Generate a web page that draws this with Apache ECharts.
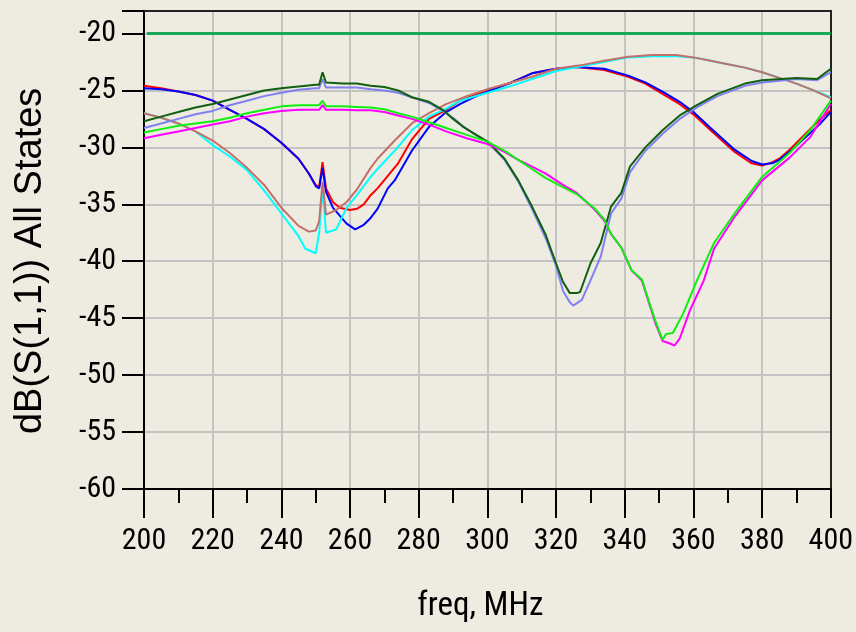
<!DOCTYPE html>
<html>
<head>
<meta charset="utf-8">
<script src="https://cdn.jsdelivr.net/npm/echarts@6/dist/echarts.min.js"></script>
<style>
  html, body { margin: 0; padding: 0; background: #eeebe1; }
  #chart { width: 856px; height: 632px; }
</style>
</head>
<body>
<div id="chart"></div>
<script>
// S11 traces for each state, [freq MHz, dB]
const redTrace = [[200,-24.6],[205,-24.8],[210,-25.1],[215,-25.4],[220,-25.9],[225,-26.7],[230,-27.5],[235,-28.4],[240,-29.6],[245,-31.0],[248,-32.3],[250,-33.3],[251,-33.5],[252,-31.3],[253,-33.6],[255,-34.8],[257,-35.3],[260,-35.5],[262,-35.4],[264,-35.0],[266,-34.2],[268,-33.6],[271,-32.5],[274,-31.4],[278,-29.3],[283,-27.5],[288,-26.7],[292,-25.9],[300,-25.0],[307,-24.3],[313,-23.5],[320,-23.1],[326,-22.95],[334,-23.2],[341,-23.8],[346,-24.4],[351,-25.3],[356,-26.2],[360,-27.1],[365,-28.5],[372,-30.4],[377,-31.4],[380,-31.6],[383,-31.3],[385,-31.0],[388,-30.2],[392,-29.0],[397,-27.5],[400,-26.75]]
const blueTrace = [[200,-24.8],[205,-24.9],[210,-25.1],[215,-25.4],[220,-25.9],[225,-26.7],[230,-27.5],[235,-28.4],[240,-29.6],[245,-31.0],[248,-32.3],[250,-33.4],[251,-33.6],[252,-31.8],[253,-33.9],[255,-35.3],[257,-36.0],[259,-36.7],[261.5,-37.2],[264,-36.8],[266,-36.2],[268,-35.4],[271,-33.6],[273,-32.9],[278,-30.3],[283,-28.2],[288,-26.9],[292,-26.2],[296,-25.6],[300,-25.1],[307,-24.3],[313,-23.5],[320,-23.1],[326,-22.95],[334,-23.1],[341,-23.7],[346,-24.3],[351,-25.1],[356,-26.0],[360,-26.9],[365,-28.3],[372,-30.2],[377,-31.2],[380,-31.5],[383,-31.4],[385,-31.1],[388,-30.4],[392,-29.3],[397,-27.9],[400,-26.9]]
const cyanTrace = [[200,-27.0],[205,-27.4],[210,-27.9],[215,-28.6],[220,-29.8],[225,-30.8],[230,-32.0],[235,-33.8],[240,-35.8],[245,-37.8],[247,-38.9],[250,-39.3],[251,-37.5],[252,-33.5],[253,-37.5],[256,-37.2],[259,-35.3],[262,-34.2],[266,-32.6],[268,-31.9],[273,-30.3],[278,-28.5],[283,-27.3],[288,-26.6],[292,-25.9],[300,-25.2],[307,-24.6],[313,-24.0],[320,-23.3],[327,-22.9],[334,-22.5],[341,-22.1],[348,-22.0],[355,-22.0],[360,-22.1],[365,-22.4],[370,-22.7],[375,-23.0],[380,-23.4],[385,-23.9],[390,-24.4],[395,-25.0],[400,-25.6]]
const brownTrace = [[200,-27.0],[205,-27.4],[210,-27.9],[215,-28.6],[220,-29.4],[225,-30.5],[230,-31.8],[235,-33.3],[240,-35.3],[245,-36.9],[248,-37.4],[250,-37.3],[251,-36.5],[252,-33.0],[253,-35.9],[256,-35.5],[259,-34.8],[262,-33.7],[266,-31.8],[268,-31.0],[273,-29.4],[278,-27.9],[283,-27.0],[288,-26.2],[294,-25.5],[300,-24.9],[307,-24.3],[313,-23.8],[320,-23.1],[327,-22.8],[334,-22.4],[341,-22.05],[348,-21.9],[355,-21.9],[360,-22.1],[365,-22.4],[370,-22.7],[375,-23.0],[380,-23.4],[385,-23.9],[390,-24.4],[395,-25.0],[400,-25.7]]
const purpleTrace = [[200,-28.3],[205,-27.9],[210,-27.5],[215,-27.1],[220,-26.8],[225,-26.3],[230,-25.9],[235,-25.5],[240,-25.2],[245,-24.95],[250,-24.8],[251,-24.8],[252,-24.0],[253,-24.75],[258,-24.75],[262,-24.75],[266,-24.9],[270,-25.0],[274,-25.2],[278,-25.6],[283,-26.1],[287,-26.8],[290,-27.4],[293,-28.2],[297,-29.0],[300,-29.5],[305,-31.1],[309,-33.0],[313,-35.4],[317,-38.0],[320,-40.4],[322,-42.6],[324,-43.6],[325,-43.9],[327.5,-43.4],[330,-41.7],[333,-39.6],[336,-35.8],[339,-34.5],[341.5,-32.2],[346,-30.3],[351,-28.8],[356,-27.5],[361,-26.5],[367,-25.5],[375,-24.6],[380,-24.3],[390,-24.0],[396,-24.1],[400,-23.4]]
const darkGreenTrace = [[200,-27.7],[205,-27.3],[210,-26.9],[215,-26.5],[220,-26.2],[225,-25.8],[230,-25.4],[235,-25.0],[240,-24.8],[245,-24.65],[250,-24.5],[251,-24.5],[252,-23.4],[253,-24.3],[258,-24.4],[262,-24.4],[266,-24.6],[270,-24.7],[274,-25.0],[278,-25.6],[283,-26.0],[287,-26.7],[290,-27.5],[293,-28.2],[297,-28.95],[300,-29.5],[305,-31.0],[309,-32.9],[313,-35.2],[317,-37.7],[320,-40.2],[322,-41.8],[324,-42.8],[326,-42.8],[327,-42.7],[330,-40.2],[333,-38.4],[336,-35.2],[339,-34.0],[341.5,-31.7],[346,-30.0],[351,-28.5],[356,-27.2],[361,-26.3],[367,-25.3],[375,-24.4],[380,-24.1],[390,-23.9],[396,-24.0],[400,-23.1]]
const magentaTrace = [[200,-29.2],[205,-28.9],[210,-28.6],[215,-28.3],[220,-28.0],[225,-27.7],[230,-27.3],[235,-27.0],[240,-26.8],[245,-26.7],[250,-26.7],[251,-26.7],[252,-26.3],[253,-26.7],[258,-26.7],[262,-26.75],[266,-26.75],[270,-26.9],[274,-27.2],[278,-27.5],[283,-28.0],[288,-28.6],[294,-29.2],[300,-29.7],[305,-30.4],[309,-31.1],[313,-31.7],[317,-32.3],[322,-33.3],[326,-34.0],[331,-35.4],[334,-36.4],[336,-37.6],[339,-38.8],[342,-40.8],[345,-41.7],[347,-43.6],[349,-45.5],[351,-47.0],[353,-47.2],[354.5,-47.4],[356,-46.8],[359,-44.3],[363,-41.7],[366,-38.9],[372,-36.1],[380,-32.9],[388,-30.9],[394,-29.1],[400,-26.2]]
const greenTrace = [[200,-28.7],[205,-28.4],[210,-28.1],[215,-27.9],[220,-27.7],[225,-27.4],[230,-27.0],[235,-26.7],[240,-26.4],[245,-26.3],[250,-26.3],[251,-26.3],[252,-25.9],[253,-26.4],[258,-26.4],[262,-26.45],[266,-26.5],[270,-26.65],[274,-27.0],[278,-27.3],[283,-27.8],[288,-28.3],[294,-28.9],[300,-29.5],[305,-30.3],[309,-31.1],[313,-31.9],[317,-32.7],[322,-33.5],[326,-34.1],[331,-35.3],[334,-36.3],[336,-37.6],[339,-38.8],[342,-40.8],[345,-41.6],[347,-43.5],[349,-45.3],[351,-46.9],[352,-46.4],[354,-46.3],[357,-44.6],[361,-41.7],[366,-38.4],[372,-35.8],[380,-32.6],[388,-30.5],[394,-28.5],[400,-25.9]]
const specLine = [[200.8,-20],[400,-20]]

const freqMin = 200
const freqMax = 400
const freqStep = 20
const dbMin = -60
const dbMax = -18
const dbStep = 5

const narrowFont = "'Roboto Condensed', 'DejaVu Sans Condensed', sans-serif"

const traces = [
  {data: redTrace, color: '#ff0000'},
  {data: blueTrace, color: '#0000ff'},
  {data: cyanTrace, color: '#00ffff'},
  {data: brownTrace, color: '#c4706a'},
  {data: purpleTrace, color: '#8080f0'},
  {data: darkGreenTrace, color: '#106010'},
  {data: magentaTrace, color: '#ff00ff'},
  {data: greenTrace, color: '#10f010'},
  {data: specLine, color: '#18aa58', width: 3}
]

const chart = echarts.init(document.getElementById('chart'))
chart.setOption({
  backgroundColor: '#eeebe1',
  animation: false,
  grid: {left: 144, right: 19.5, top: 10.7, bottom: 143},
  xAxis: [
    {
      type: 'value',
      min: freqMin,
      max: freqMax,
      interval: freqStep,
      name: 'freq, MHz',
      nameLocation: 'middle',
      nameGap: 101,
      nameTextStyle: {fontFamily: narrowFont, fontSize: 33, color: '#000', padding: [0, 14, 0, 0]},
      axisLine: {lineStyle: {color: '#000', width: 2}},
      axisTick: {length: 29, lineStyle: {color: '#000', width: 2}},
      minorTick: {show: true, splitNumber: 2, length: 14, lineStyle: {color: '#000', width: 2}},
      axisLabel: {margin: 37, fontFamily: narrowFont, fontSize: 30, color: '#000'},
      splitLine: {lineStyle: {color: '#c3c3c3', width: 2}}
    },
    {
      type: 'value',
      position: 'top',
      min: freqMin,
      max: freqMax,
      axisLine: {lineStyle: {color: '#222', width: 2}},
      axisTick: {show: false},
      axisLabel: {show: false},
      splitLine: {show: false}
    }
  ],
  yAxis: [
    {
      type: 'value',
      min: dbMin,
      max: dbMax,
      interval: dbStep,
      name: 'dB(S(1,1)) All States',
      nameLocation: 'middle',
      nameGap: 94,
      nameTextStyle: {fontFamily: "'Liberation Sans', Arial, sans-serif", fontSize: 38, color: '#000', padding: [0, 22, 0, 0]},
      axisLine: {lineStyle: {color: '#000', width: 2}},
      axisTick: {length: 22, lineStyle: {color: '#000', width: 2}},
      axisLabel: {
        margin: 28,
        fontFamily: narrowFont,
        fontSize: 30,
        color: '#000',
        formatter: v => (v === dbMax ? '' : String(v))
      },
      splitLine: {lineStyle: {color: '#c3c3c3', width: 2}}
    },
    {
      type: 'value',
      position: 'right',
      min: dbMin,
      max: dbMax,
      axisLine: {show: true, lineStyle: {color: '#222', width: 2}},
      axisTick: {show: false},
      axisLabel: {show: false},
      splitLine: {show: false}
    }
  ],
  series: traces.map(t => ({
    type: 'line',
    data: t.data,
    showSymbol: false,
    symbol: 'none',
    silent: true,
    lineStyle: {color: t.color, width: t.width || 2},
    z: 3
  }))
})
</script>
</body>
</html>
